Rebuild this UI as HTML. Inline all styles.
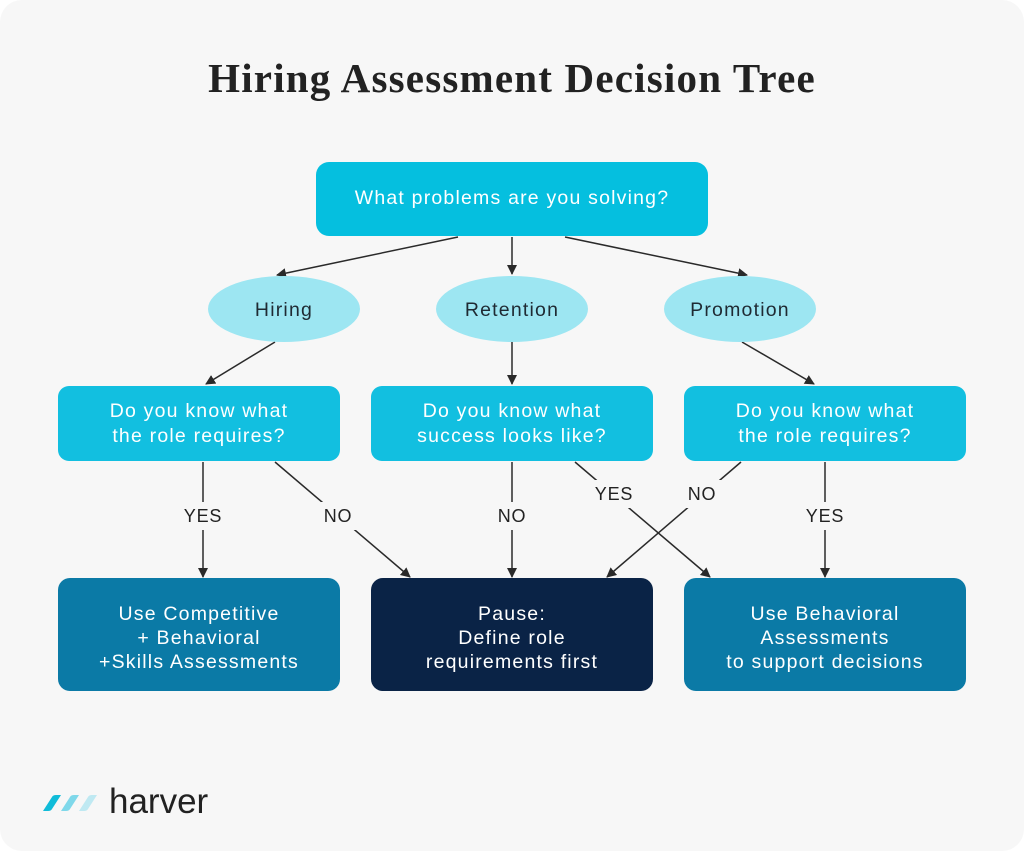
<!DOCTYPE html>
<html><head><meta charset="utf-8"><style>
html,body{margin:0;padding:0;background:#fff;}
svg{display:block;}
</style></head><body>
<svg width="1024" height="851" viewBox="0 0 1024 851" xmlns="http://www.w3.org/2000/svg">
<defs>
<marker id="a" markerWidth="10" markerHeight="10" refX="9" refY="5" orient="auto" markerUnits="userSpaceOnUse">
<path d="M0,0 L10,5 L0,10 z" fill="#2a2a2a"/></marker>
</defs>
<rect x="0" y="0" width="1024" height="851" rx="22" fill="#f7f7f7"/>
<text x="512" y="92" text-anchor="middle" font-family="Liberation Serif, serif" font-weight="bold" font-size="41" letter-spacing="1.2" fill="#222">Hiring Assessment Decision Tree</text>

<g stroke="#2a2a2a" stroke-width="1.5" fill="none" marker-end="url(#a)">
<line x1="458" y1="237" x2="277" y2="275"/>
<line x1="512" y1="237" x2="512" y2="274"/>
<line x1="565" y1="237" x2="747" y2="275"/>
<line x1="275" y1="342" x2="206" y2="384"/>
<line x1="512" y1="342" x2="512" y2="384"/>
<line x1="742" y1="342" x2="814" y2="384"/>
<line x1="203" y1="462" x2="203" y2="577"/>
<line x1="275" y1="462" x2="410" y2="577"/>
<line x1="512" y1="462" x2="512" y2="577"/>
<line x1="575" y1="462" x2="710" y2="577"/>
<line x1="741" y1="462" x2="607" y2="577"/>
<line x1="825" y1="462" x2="825" y2="577"/>
</g>
<g fill="#f7f7f7">
<rect x="176" y="502" width="54" height="28"/>
<rect x="316" y="502" width="44" height="28"/>
<rect x="490" y="502" width="44" height="28"/>
<rect x="588" y="480" width="52" height="28"/>
<rect x="680" y="480" width="44" height="28"/>
<rect x="798" y="502" width="54" height="28"/>
</g>
<g font-family="Liberation Sans, sans-serif" font-size="18" letter-spacing="0.8" fill="#222" text-anchor="middle">
<text x="203" y="522">YES</text>
<text x="338" y="522">NO</text>
<text x="512" y="522">NO</text>
<text x="614" y="500">YES</text>
<text x="702" y="500">NO</text>
<text x="825" y="522">YES</text>
</g>

<rect x="316" y="162" width="392" height="74" rx="13" fill="#05bfdf"/>
<g font-family="Liberation Sans, sans-serif" font-size="19.5" letter-spacing="1.2" text-anchor="middle">
<text x="512" y="204" fill="#fff">What problems are you solving?</text>
</g>

<g fill="#9de6f2">
<ellipse cx="284" cy="309" rx="76" ry="33"/>
<ellipse cx="512" cy="309" rx="76" ry="33"/>
<ellipse cx="740" cy="309" rx="76" ry="33"/>
</g>
<g font-family="Liberation Sans, sans-serif" font-size="19.5" letter-spacing="1.2" fill="#1f2a33" text-anchor="middle">
<text x="284" y="316">Hiring</text>
<text x="512" y="316">Retention</text>
<text x="740" y="316">Promotion</text>
</g>

<g fill="#12bfe0">
<rect x="58" y="386" width="282" height="75" rx="11"/>
<rect x="371" y="386" width="282" height="75" rx="11"/>
<rect x="684" y="386" width="282" height="75" rx="11"/>
</g>
<g font-family="Liberation Sans, sans-serif" font-size="19.5" letter-spacing="1.2" fill="#fff" text-anchor="middle">
<text x="199" y="417">Do you know what</text><text x="199" y="442">the role requires?</text>
<text x="512" y="417">Do you know what</text><text x="512" y="442">success looks like?</text>
<text x="825" y="417">Do you know what</text><text x="825" y="442">the role requires?</text>
</g>

<rect x="58" y="578" width="282" height="113" rx="12" fill="#0b7aa6"/>
<rect x="371" y="578" width="282" height="113" rx="12" fill="#0a2346"/>
<rect x="684" y="578" width="282" height="113" rx="12" fill="#0b7aa6"/>
<g font-family="Liberation Sans, sans-serif" font-size="19.5" letter-spacing="1.2" fill="#fff" text-anchor="middle">
<text x="199" y="620">Use Competitive</text><text x="199" y="644">+ Behavioral</text><text x="199" y="668">+Skills Assessments</text>
<text x="512" y="620">Pause:</text><text x="512" y="644">Define role</text><text x="512" y="668">requirements first</text>
<text x="825" y="620">Use Behavioral</text><text x="825" y="644">Assessments</text><text x="825" y="668">to support decisions</text>
</g>

<g>
<path d="M43,811 L52,797 Q53,795 56,795 L61,795 L52,809 Q51,811 48,811 Z" fill="#10bcd9"/>
<path d="M61,811 L70,797 Q71,795 74,795 L79,795 L70,809 Q69,811 66,811 Z" fill="#7fd8ea"/>
<path d="M79,811 L88,797 Q89,795 92,795 L97,795 L88,809 Q87,811 84,811 Z" fill="#bfe9f2"/>
<text x="109" y="813" font-family="Liberation Sans, sans-serif" font-size="35" fill="#222">harver</text>
</g>
</svg>
</body></html>
